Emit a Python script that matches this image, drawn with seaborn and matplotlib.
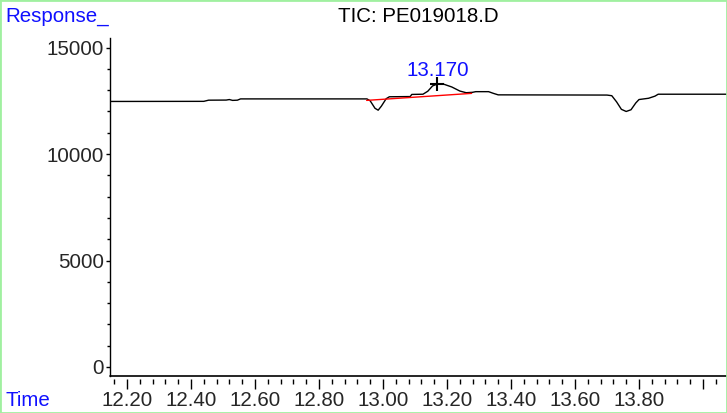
import numpy as np
import matplotlib
matplotlib.use("Agg")
import matplotlib.pyplot as plt
from matplotlib.patches import Rectangle
from matplotlib.ticker import FixedLocator, FixedFormatter
import seaborn as sns

# chromatogram trace (retention time in min, response)
times = [12.147, 12.44, 12.455, 12.51, 12.52, 12.53, 12.545, 12.555, 12.95,
         12.96, 12.975, 12.985, 12.995, 13.01, 13.02, 13.085, 13.09, 13.125,
         13.14, 13.155, 13.17, 13.19, 13.215, 13.24, 13.26, 13.28, 13.29,
         13.33, 13.345, 13.36, 13.70, 13.715, 13.73, 13.745, 13.76, 13.775,
         13.79, 13.80, 13.83, 13.85, 13.86, 14.075]
response = [12470, 12475, 12530, 12535, 12560, 12520, 12530, 12590, 12590,
            12500, 12150, 12060, 12250, 12600, 12690, 12700, 12800, 12810,
            12950, 13200, 13290, 13280, 13150, 12960, 12880, 12900, 12930,
            12930, 12850, 12780, 12770, 12740, 12450, 12100, 12000, 12080,
            12400, 12560, 12620, 12720, 12810, 12810]

# integration baseline of the labelled peak
base_t = [12.949, 13.277]
base_r = [12520, 12850]

peak_time = 13.170
peak_resp = 13290
peak_label = "13.170"

x_major = [12.2, 12.4, 12.6, 12.8, 13.0, 13.2, 13.4, 13.6, 13.8, 14.0]
x_labels = ["12.20", "12.40", "12.60", "12.80", "13.00", "13.20", "13.40", "13.60", "13.80", ""]
x_minor = [round(12.16 + 0.04 * i, 2) for i in range(49)]
y_major = [0, 5000, 10000, 15000]
y_labels = ["0", "5000", "10000", "15000"]
y_minor = list(range(0, 16000, 1000))

FS = 14.8

sns.set_style("white")
plt.rcParams['font.family'] = ['Liberation Sans', 'DejaVu Sans']

fig = plt.figure(figsize=(7.27, 4.13), dpi=100)
ax = fig.add_axes([110 / 727, 37 / 413, 617 / 727, 338 / 413])

sns.lineplot(x=times, y=response, ax=ax, color="black", linewidth=1.0,
             sort=False, estimator=None)
sns.lineplot(x=base_t, y=base_r, ax=ax, color="red", linewidth=1.0,
             sort=False, estimator=None)
ax.plot([peak_time], [peak_resp], marker="+", color="black", markersize=10,
        markeredgewidth=1.5)
ax.text(peak_time, peak_resp + 180, peak_label, color="#1010ff", fontsize=FS,
        ha="center", va="bottom")

ax.set_xlim(12.147, 14.075)
ax.set_ylim(-423, 15450)

ax.xaxis.set_major_locator(FixedLocator(x_major))
ax.xaxis.set_major_formatter(FixedFormatter(x_labels))
ax.xaxis.set_minor_locator(FixedLocator(x_minor))
ax.yaxis.set_major_locator(FixedLocator(y_major))
ax.yaxis.set_major_formatter(FixedFormatter(y_labels))
ax.yaxis.set_minor_locator(FixedLocator(y_minor))

for side in ["top", "right"]:
    ax.spines[side].set_visible(False)
ax.spines["left"].set_color("black")
ax.spines["left"].set_linewidth(1.0)
# ticks sit a little below the time axis line
ax.spines["bottom"].set_position(("outward", 2.5))
ax.spines["bottom"].set_visible(False)
ax.axhline(-423, color="black", linewidth=1.2, clip_on=False)

ax.tick_params(axis="x", which="major", direction="out", length=7, width=1,
               color="black", labelsize=FS, pad=1.5, bottom=True)
ax.tick_params(axis="x", which="minor", direction="out", length=3.5, width=1,
               color="black", bottom=True)
ax.tick_params(axis="y", which="major", direction="out", length=3, width=1,
               color="black", labelsize=FS, pad=1.5, left=True)
ax.tick_params(axis="y", which="minor", direction="out", length=2, width=1,
               color="black", left=True)
ax.set_xlabel("")
ax.set_ylabel("")

fig.text(5 / 727, 1 - 16 / 413, "Response_", color="#1010ff", fontsize=FS,
         ha="left", va="center")
fig.text(418 / 727, 1 - 17 / 413, "TIC: PE019018.D", color="black",
         fontsize=FS, ha="center", va="center")
fig.text(5 / 727, 1 - 400 / 413, "Time", color="#1010ff", fontsize=FS,
         ha="left", va="center")

fig.patches.append(Rectangle((0, 0), 1, 1, transform=fig.transFigure,
                             fill=False, edgecolor="#a0f0a0", linewidth=2))

fig.savefig("out.png", dpi=100)
